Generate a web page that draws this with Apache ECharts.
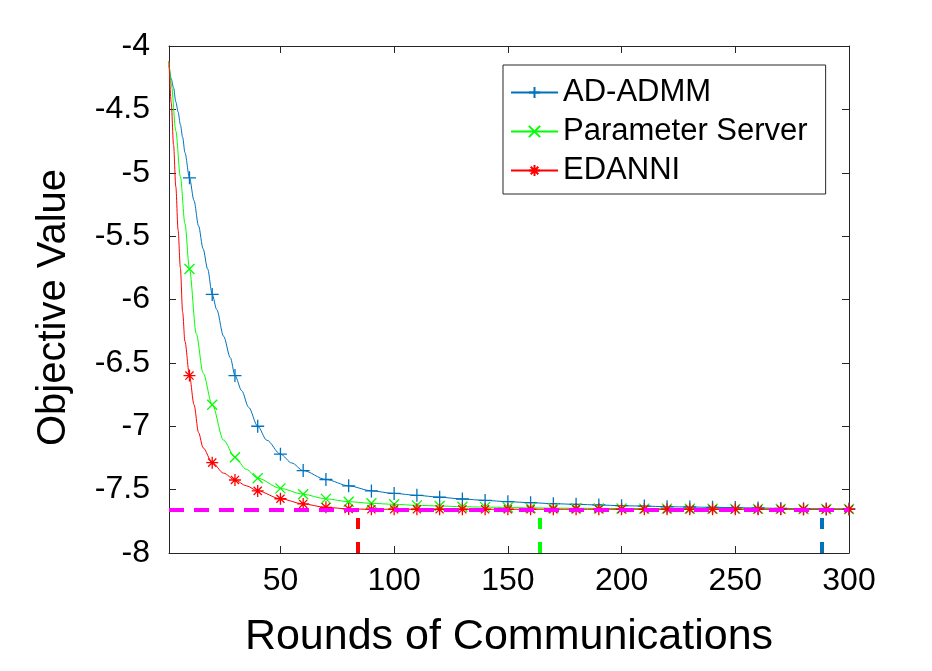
<!DOCTYPE html>
<html>
<head>
<meta charset="utf-8">
<script src="https://cdn.jsdelivr.net/npm/echarts@6/dist/echarts.min.js"></script>
<style>
  html, body { margin: 0; padding: 0; background: #fff; }
  #main { width: 932px; height: 671px; }
</style>
</head>
<body>
<div id="main"></div>
<script>
// 数据
var seriesNames = ['AD-ADMM', 'Parameter Server', 'EDANNI'];
var xTicks = [50, 100, 150, 200, 250, 300];

var admmRounds = [1, 2, 3, 4, 5, 6, 7, 8, 10, 12, 14, 16, 18, 20, 22, 25, 28, 30, 33, 36, 40, 44, 50, 55, 60, 70, 80, 90, 100, 110, 120, 130, 140, 150, 160, 170, 180, 190, 200, 210, 220, 230, 240, 250, 260, 270, 280, 290, 300];
var admmValues = [-4.15, -4.26, -4.33, -4.44, -4.52, -4.62, -4.72, -4.84, -5.04, -5.22, -5.42, -5.6, -5.76, -5.96, -6.08, -6.29, -6.46, -6.6, -6.72, -6.85, -7.0, -7.11, -7.22, -7.29, -7.35, -7.42, -7.47, -7.51, -7.53, -7.545, -7.56, -7.574, -7.585, -7.595, -7.603, -7.611, -7.616, -7.621, -7.627, -7.63, -7.635, -7.637, -7.64, -7.642, -7.645, -7.648, -7.65, -7.652, -7.653];

var psRounds = [1, 2, 4, 6, 8, 10, 13, 16, 20, 25, 30, 35, 40, 50, 60, 70, 80, 90, 100, 110, 120, 130, 140, 150, 160, 170, 180, 190, 200, 210, 220, 230, 240, 250, 260, 270, 280, 290, 300];
var psValues = [-4.12, -4.3, -4.67, -5.03, -5.4, -5.76, -6.27, -6.58, -6.83, -7.11, -7.245, -7.34, -7.41, -7.49, -7.537, -7.573, -7.595, -7.608, -7.616, -7.624, -7.629, -7.635, -7.638, -7.641, -7.644, -7.646, -7.647, -7.648, -7.649, -7.65, -7.65, -7.651, -7.651, -7.652, -7.652, -7.652, -7.653, -7.653, -7.653];

var edanniRounds = [1, 2, 3, 4, 5, 6, 7, 8, 10, 12, 14, 16, 20, 25, 30, 35, 40, 50, 60, 70, 80, 90, 100, 110, 120, 130, 140, 150, 160, 170, 180, 190, 200, 210, 220, 230, 240, 250, 260, 270, 280, 290, 300];
var edanniValues = [-4.12, -4.45, -4.78, -5.11, -5.45, -5.75, -6.1, -6.33, -6.6, -6.83, -7.05, -7.17, -7.287, -7.37, -7.424, -7.47, -7.51, -7.572, -7.613, -7.64, -7.652, -7.655, -7.655, -7.655, -7.655, -7.655, -7.655, -7.655, -7.655, -7.655, -7.655, -7.655, -7.655, -7.655, -7.655, -7.655, -7.655, -7.655, -7.655, -7.655, -7.655, -7.655, -7.655];

// 目标值和各算法到达目标的轮数
var targetValue = -7.655;
var reachRounds = [288, 164, 84];
var reachTop = -7.72;

var colors = ['#0072BD', '#00FF00', '#FF0000'];
var symbols = [
    'path://M5,0L5,10M0,5L10,5',
    'path://M0,0L10,10M10,0L0,10',
    'path://M5,0L5,10M0,5L10,5M1.6,1.6L8.4,8.4M8.4,1.6L1.6,8.4'
];
var symbolSizes = [13, 10, 12];

var chartDom = document.getElementById('main');
var myChart = echarts.init(chartDom);

var axisColor = '#262626';
var font = '"Liberation Sans", Arial, Helvetica, sans-serif';

// 每10轮画一个标记
function makeData(rounds, values, sym){
    var list = [];
    for(var i=0;i<rounds.length;i++){
        list.push({
            value: [rounds[i], values[i]],
            symbol: rounds[i] % 10 === 0 ? sym : 'none'
        });
    }
    return list;
}

function makeSeries(idx, rounds, values){
    return {
        name: seriesNames[idx],
        type: 'line',
        data: makeData(rounds, values, symbols[idx]),
        symbol: symbols[idx],
        symbolSize: symbolSizes[idx],
        showAllSymbol: true,
        smooth: 0.3,
        smoothMonotone: 'x',
        z: 3,
        lineStyle: { color: colors[idx], width: 1 },
        itemStyle: { color: 'none', borderColor: colors[idx], borderWidth: 1.3 },
        emphasis: { disabled: true },
        animation: false
    };
}

// 竖直虚线
var reachLines = [];
for(var i=0;i<reachRounds.length;i++){
    reachLines.push([
        { coord: [reachRounds[i], -8], lineStyle: { color: colors[i] } },
        { coord: [reachRounds[i], reachTop] }
    ]);
}

var option = {
    backgroundColor: '#fff',
    textStyle: { fontFamily: font },
    grid: { left: 169, right: 83, top: 46, bottom: 118 },
    legend: {
        data: seriesNames,
        orient: 'vertical',
        left: 503,
        top: 65,
        itemWidth: 47,
        itemHeight: 14,
        itemGap: 8,
        padding: [12, 18, 8, 7],
        borderColor: '#262626',
        borderWidth: 1,
        backgroundColor: '#fff',
        textStyle: { fontSize: 31, color: '#000', lineHeight: 30, fontFamily: font }
    },
    xAxis: [{
        type: 'value',
        min: 1,
        max: 300,
        name: 'Rounds of Communications',
        nameLocation: 'middle',
        nameGap: 63,
        nameTextStyle: { fontSize: 43, color: '#000', fontFamily: font },
        splitLine: { show: false },
        axisLine: { lineStyle: { color: axisColor, width: 1 } },
        axisTick: { inside: true, length: 7, lineStyle: { color: axisColor }, customValues: xTicks },
        axisLabel: { fontSize: 32, color: '#000', margin: 12, customValues: xTicks, fontFamily: font }
    }, {
        type: 'value',
        position: 'top',
        min: 1,
        max: 300,
        splitLine: { show: false },
        axisLine: { onZero: false, lineStyle: { color: axisColor, width: 1 } },
        axisTick: { inside: true, length: 7, lineStyle: { color: axisColor }, customValues: xTicks },
        axisLabel: { show: false }
    }],
    yAxis: [{
        type: 'value',
        min: -8,
        max: -4,
        interval: 0.5,
        name: 'Objective Value',
        nameLocation: 'middle',
        nameGap: 95,
        nameTextStyle: { fontSize: 40, color: '#000', fontFamily: font, padding: [0, 16, 0, 0] },
        splitLine: { show: false },
        axisLine: { show: true, onZero: false, lineStyle: { color: axisColor, width: 1 } },
        axisTick: { show: true, inside: true, length: 7, lineStyle: { color: axisColor } },
        axisLabel: { fontSize: 32, color: '#000', margin: 19, fontFamily: font }
    }, {
        type: 'value',
        position: 'right',
        min: -8,
        max: -4,
        interval: 0.5,
        splitLine: { show: false },
        axisLine: { show: true, onZero: false, lineStyle: { color: axisColor, width: 1 } },
        axisTick: { show: true, inside: true, length: 7, lineStyle: { color: axisColor } },
        axisLabel: { show: false }
    }],
    series: [
        makeSeries(0, admmRounds, admmValues),
        makeSeries(1, psRounds, psValues),
        makeSeries(2, edanniRounds, edanniValues),
        {
            // 参考线（不进图例）
            name: 'ref',
            type: 'line',
            data: [],
            z: 2,
            animation: false,
            markLine: {
                silent: true,
                symbol: ['none', 'none'],
                label: { show: false },
                animation: false,
                lineStyle: { width: 4, type: [11, 13] },
                data: reachLines.concat([[
                    { coord: [1, targetValue], lineStyle: { color: '#FF00FF', type: [15, 10] } },
                    { coord: [300, targetValue] }
                ]])
            }
        }
    ]
};

myChart.setOption(option);
</script>
</body>
</html>
